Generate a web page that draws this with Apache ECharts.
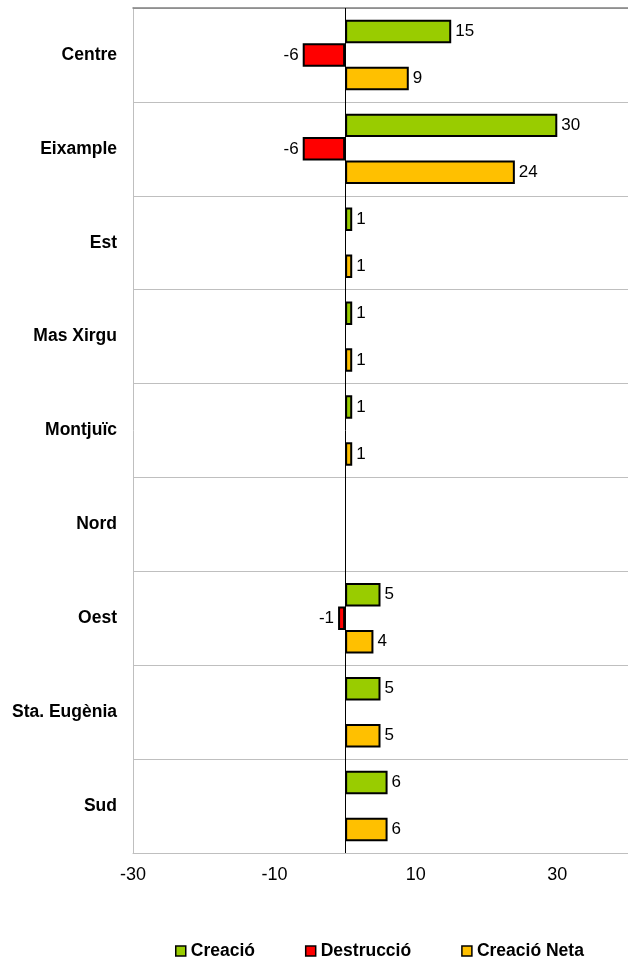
<!DOCTYPE html>
<html><head><meta charset="utf-8">
<script src="https://cdn.jsdelivr.net/npm/echarts@6/dist/echarts.min.js"></script>
<style>html,body{margin:0;padding:0;background:#fff}#c{width:628px;height:958px}</style>
</head><body><div id="c"></div>
<script>
var categories = ['Centre','Eixample','Est','Mas Xirgu','Montjuïc','Nord','Oest','Sta. Eugènia','Sud'];
var creacio = [15,30,1,1,1,null,5,5,6];
var destruccio = [-6,-6,null,null,null,null,-1,null,null];
var creacioNeta = [9,24,1,1,1,null,4,5,6];
var xTicks = {min:-30, max:40, interval:20};

var FONT = '"Liberation Sans", Arial, sans-serif';
function mk(name, data, color, pos){
  return {
    name:name, type:'bar', data:data, barGap:'0%', barCategoryGap:'25%',
    itemStyle:{color:color, borderColor:'#000', borderWidth:2},
    label:{show:true, position:pos, distance:4, color:'#000', fontSize:17, fontFamily:FONT},
    emphasis:{disabled:true}
  };
}
var s1 = mk('Creació', creacio, '#99CC00', 'right');
s1.markLine = {silent:true, symbol:'none', label:{show:false},
  lineStyle:{color:'#000', width:1, type:'solid'}, data:[{xAxis:0}]};
var chart = echarts.init(document.getElementById('c'));
chart.setOption({
  animation:false,
  grid:{left:133, right:-3, top:8, bottom:105},
  legend:{left:170, top:937, itemWidth:10, itemHeight:10, itemGap:50,
    icon:'rect', textStyle:{fontSize:17.5, fontWeight:'bold', color:'#000', fontFamily:FONT},
    itemStyle:{borderColor:'#000', borderWidth:1.5},
    data:['Creació','Destrucció','Creació Neta']},
  xAxis:[{type:'value', min:xTicks.min, max:xTicks.max, interval:xTicks.interval,
    axisLine:{show:true, onZero:false, lineStyle:{color:'#BFBFBF', width:1}},
    axisTick:{show:false}, splitLine:{show:false},
    axisLabel:{showMaxLabel:false, color:'#000', fontSize:18, fontFamily:FONT, margin:13}},
    {type:'value', position:'top', min:xTicks.min, max:xTicks.max,
    axisLine:{show:true, onZero:false, lineStyle:{color:'#808080', width:1.5}},
    axisTick:{show:false}, splitLine:{show:false}, axisLabel:{show:false}}],
  yAxis:{type:'category', data:categories, inverse:true,
    axisLine:{show:true, onZero:false, lineStyle:{color:'#BFBFBF'}},
    axisTick:{show:false},
    splitLine:{show:true, lineStyle:{color:'#BFBFBF'}},
    axisLabel:{color:'#000', fontSize:17.5, fontWeight:'bold', fontFamily:FONT, margin:16}},
  series:[s1, mk('Destrucció', destruccio, '#FF0000', 'left'), mk('Creació Neta', creacioNeta, '#FFC000', 'right')]
});
</script></body></html>
